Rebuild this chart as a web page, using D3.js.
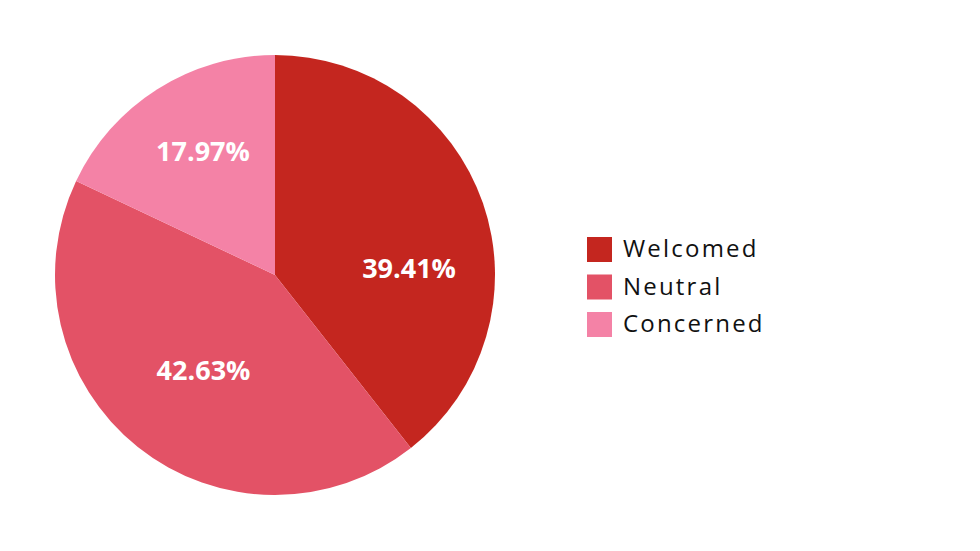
<!DOCTYPE html>
<html><head><meta charset="utf-8">
<script src="https://cdn.jsdelivr.net/npm/d3@7"></script>
<style>body{margin:0;background:#fff;} svg{display:block;}</style>
</head><body>
<svg id="chart" width="980" height="551"></svg>
<script>
const categories = ["Welcomed", "Neutral", "Concerned"];
const values = [39.41, 42.63, 17.97];
const colors = ["#c4261f", "#e35266", "#f482a6"];
// label placement (angle deg clockwise from top, radius fraction)
const labelPlacement = [[87, 0.61], [217, 0.54], [330, 0.655]];

const svg = d3.select("#chart");
const cx = 275, cy = 275, R = 220;
const g = svg.append("g").attr("transform", `translate(${cx},${cy})`);
const data = categories.map((c, i) => ({name: c, value: values[i], color: colors[i], i}));
const pie = d3.pie().value(d => d.value).sort(null);
const arc = d3.arc().innerRadius(0).outerRadius(R);
const arcs = pie(data);
g.selectAll("path").data(arcs).join("path")
  .attr("d", arc).attr("fill", d => d.data.color);
g.selectAll("text").data(arcs).join("text")
  .attr("transform", d => {
    const [a, f] = labelPlacement[d.index];
    const rad = a * Math.PI / 180;
    return `translate(${Math.sin(rad) * R * f},${-Math.cos(rad) * R * f})`;
  })
  .attr("text-anchor", "middle").attr("dominant-baseline", "central")
  .attr("font-family", "'Open Sans', sans-serif").attr("font-weight", 700)
  .attr("font-size", 27).attr("fill", "#fff")
  .text(d => d.data.value.toFixed(2) + "%");

const leg = svg.append("g").attr("transform", "translate(587,237)");
const rows = leg.selectAll("g").data(data).join("g")
  .attr("transform", (d, i) => `translate(0,${i * 37.5})`);
rows.append("rect").attr("width", 25).attr("height", 25).attr("fill", d => d.color);
rows.append("text").attr("x", 36).attr("y", 10.5).attr("dominant-baseline", "central")
  .attr("font-family", "'Open Sans', sans-serif").attr("font-size", 24)
  .attr("letter-spacing", 2.2).attr("fill", "#111")
  .text(d => d.name);
</script>
</body></html>
